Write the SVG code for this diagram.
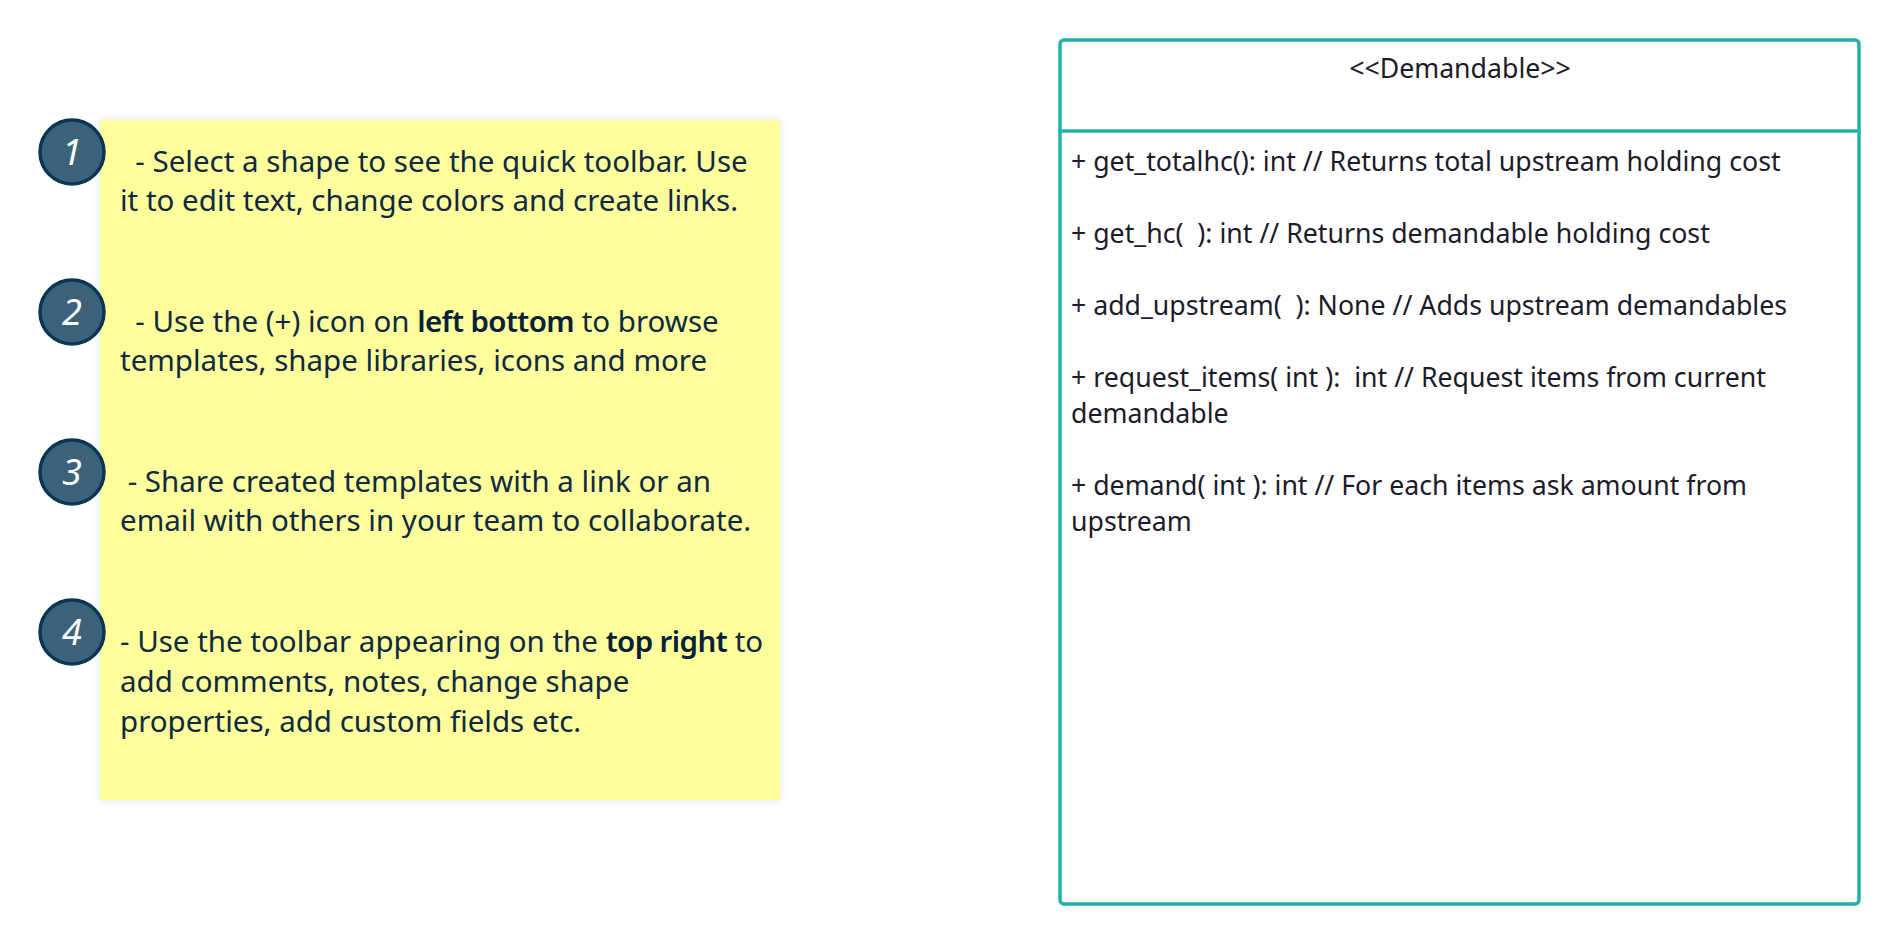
<svg xmlns="http://www.w3.org/2000/svg" width="1900" height="944" viewBox="0 0 1900 944">
<defs>
<style>
.note-text{font-family:"Noto Sans","Open Sans",sans-serif;font-size:29.5px;fill:#0e2a42;}
.b{font-weight:600;fill:#06213a;letter-spacing:-0.6px;}
.num{font-family:"Noto Sans","Open Sans",sans-serif;font-style:italic;font-size:36px;fill:#ffffff;text-anchor:middle;}
.badge{fill:#3b6279;stroke:#0b3553;stroke-width:3.5;}
.uml{fill:#ffffff;stroke:#22b0ac;stroke-width:3.5;}
.uml-text{font-family:"Noto Sans","Open Sans",sans-serif;font-size:26.7px;fill:#1b1b2b;}
.uml-head{font-family:"Noto Sans","Open Sans",sans-serif;font-size:26.7px;fill:#1b1b2b;text-anchor:middle;}
</style>
<filter id="shadow" x="-5%" y="-5%" width="110%" height="110%">
<feDropShadow dx="0" dy="0" stdDeviation="4" flood-color="#000000" flood-opacity="0.12"/>
</filter>
</defs>
<rect width="1900" height="944" fill="#ffffff"/>
<g id="sticky-note">
<rect x="100" y="120" width="680" height="680" fill="#fffd9c" filter="url(#shadow)"/>
<text class="note-text" xml:space="preserve"><tspan x="120" y="172">  - Select a shape to see the quick toolbar. Use</tspan><tspan x="120" y="211">it to edit text, change colors and create links.</tspan></text>
<text class="note-text" xml:space="preserve"><tspan x="120" y="332">  - Use the (+) icon on <tspan class="b">left bottom</tspan> to browse</tspan><tspan x="120" y="371">templates, shape libraries, icons and more</tspan></text>
<text class="note-text" xml:space="preserve"><tspan x="120" y="492"> - Share created templates with a link or an</tspan><tspan x="120" y="531">email with others in your team to collaborate.</tspan></text>
<text class="note-text" xml:space="preserve"><tspan x="120" y="652">- Use the toolbar appearing on the <tspan class="b">top right</tspan> to</tspan><tspan x="120" y="692">add comments, notes, change shape</tspan><tspan x="120" y="732">properties, add custom fields etc.</tspan></text>
</g>
<g id="badge-1"><circle class="badge" cx="72" cy="152" r="32"/><text class="num" x="72" y="165">1</text></g>
<g id="badge-2"><circle class="badge" cx="72" cy="312" r="32"/><text class="num" x="72" y="325">2</text></g>
<g id="badge-3"><circle class="badge" cx="72" cy="472" r="32"/><text class="num" x="72" y="485">3</text></g>
<g id="badge-4"><circle class="badge" cx="72" cy="632" r="32"/><text class="num" x="72" y="645">4</text></g>
<g id="demandable">
<rect class="uml" x="1060" y="40" width="799" height="864" rx="4"/>
<line x1="1060" y1="131" x2="1859" y2="131" stroke="#22b0ac" stroke-width="3.5"/>
<text class="uml-head" x="1460" y="78">&lt;&lt;Demandable&gt;&gt;</text>
<text class="uml-text" xml:space="preserve"><tspan x="1071" y="171">+ get_totalhc(): int // Returns total upstream holding cost</tspan><tspan x="1071" y="243">+ get_hc(  ): int // Returns demandable holding cost</tspan><tspan x="1071" y="315">+ add_upstream(  ): None // Adds upstream demandables</tspan><tspan x="1071" y="387">+ request_items( int ):  int // Request items from current</tspan><tspan x="1071" y="423">demandable</tspan><tspan x="1071" y="495">+ demand( int ): int // For each items ask amount from</tspan><tspan x="1071" y="531">upstream</tspan></text>
</g>
<g id="connectors"/>
</svg>
